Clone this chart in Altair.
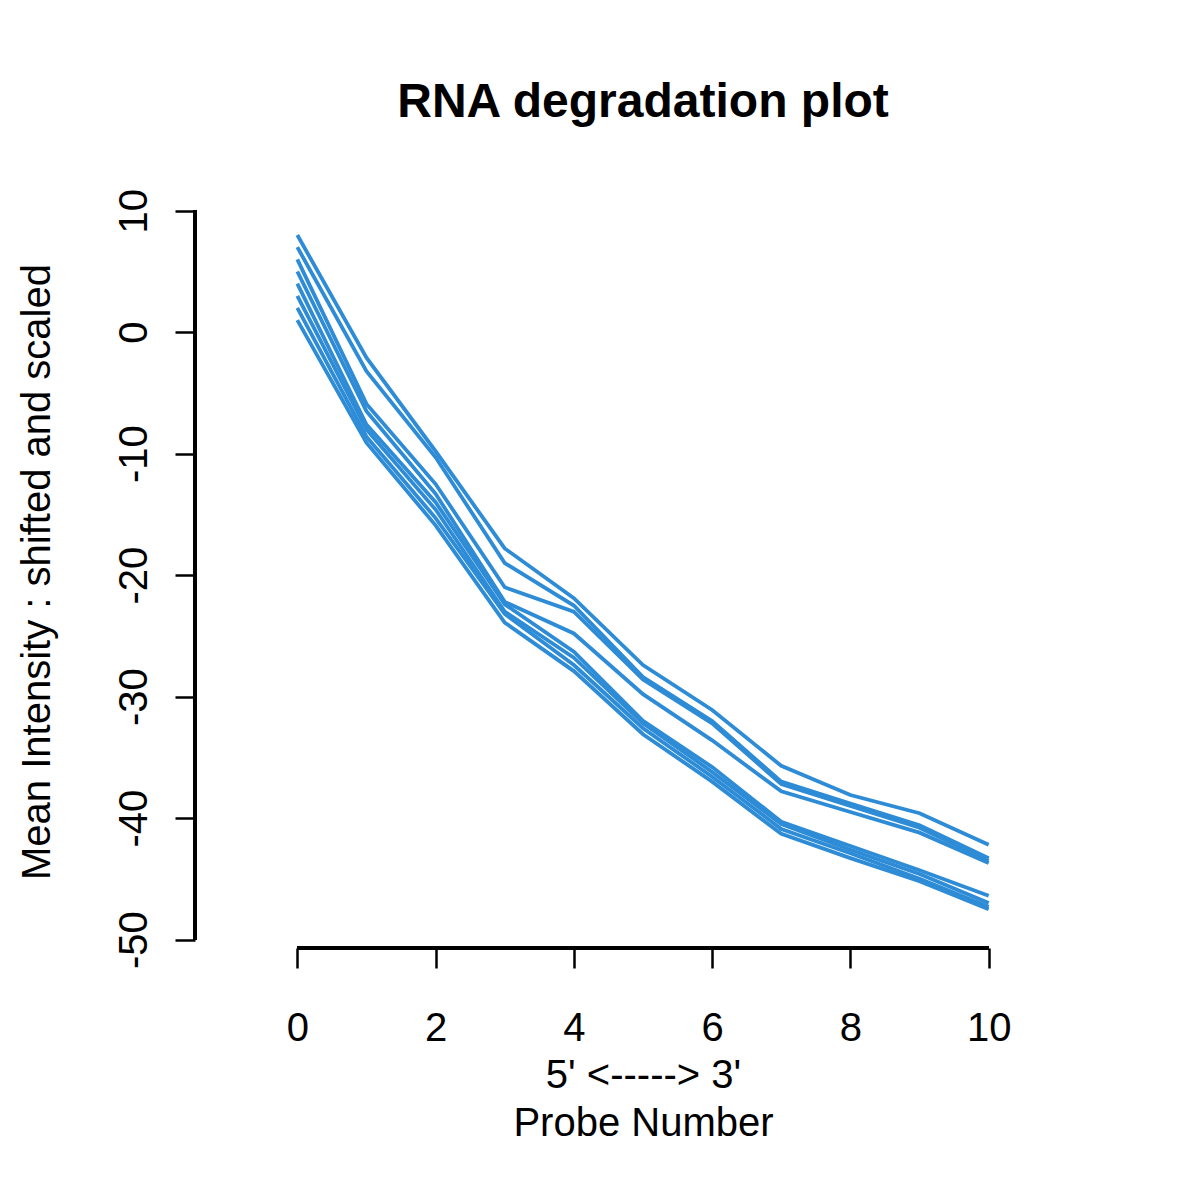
import altair as alt
import pandas as pd

probe = [0, 1, 2, 3, 4, 5, 6, 7, 8, 9, 10]
s8 = [8, -2.1, -9.8, -17.8, -21.9, -27.4, -31.1, -35.7, -38.1, -39.6, -42.2]
s7 = [7, -3.2, -10.3, -19.0, -22.5, -28.4, -32.0, -37.0, -38.8, -40.6, -43.3]
s6 = [6, -5.9, -12.5, -21.0, -23.0, -28.6, -32.2, -37.2, -39.0, -40.8, -43.5]
s5 = [5, -6.5, -13.3, -22.2, -24.8, -29.8, -33.6, -37.8, -39.5, -41.2, -43.7]
s4 = [4, -7.6, -14.0, -22.4, -26.3, -32.0, -35.8, -40.3, -42.3, -44.3, -46.4]
s3 = [3, -8.0, -14.6, -23.0, -26.8, -32.2, -36.2, -40.5, -42.6, -44.6, -47.0]
s2 = [2, -8.6, -15.3, -23.2, -27.4, -32.6, -36.6, -40.9, -42.9, -45.0, -47.3]
s1 = [1, -9.1, -15.9, -23.9, -27.9, -33.1, -37.0, -41.3, -43.3, -45.2, -47.5]
series = {"s8": s8, "s7": s7, "s6": s6, "s5": s5, "s4": s4, "s3": s3, "s2": s2, "s1": s1}

x_ticks = [0, 2, 4, 6, 8, 10]
y_ticks = [-50, -40, -30, -20, -10, 0, 10]

rows = []
for name, vals in series.items():
    for p, v in zip(probe, vals):
        rows.append({"sample": name, "probe": p, "value": v})
df = pd.DataFrame(rows)

W, H = 896, 753
FONT = "Liberation Sans"
x_dom = [-1.48, 11.48]
y_dom = [-50.696, 11.296]

xscale = alt.Scale(domain=x_dom, nice=False, zero=False)
yscale = alt.Scale(domain=y_dom, nice=False, zero=False)

lines = alt.Chart(df).mark_line(color="#2E8CD6", strokeWidth=3.8).encode(
    x=alt.X("probe:Q", scale=xscale,
            axis=alt.Axis(values=x_ticks, domain=False, grid=False, tickSize=20,
                          tickWidth=2.5, tickColor="black", labelFontSize=40,
                          labelFont=FONT, labelColor="black", labelPadding=40,
                          labelExpr="'' + datum.value",
                          labelFlush=False, labelOverlap=False,
                          title=["5' <-----> 3'", "Probe Number"],
                          titleFontSize=40, titleFont=FONT, titleFontWeight="normal",
                          titleColor="black", titleLineHeight=48,
                          titleX=W / 2, titleY=139, titleAlign="center",
                          titleBaseline="alphabetic")),
    y=alt.Y("value:Q", scale=yscale,
            axis=alt.Axis(values=y_ticks, domain=False, grid=False, tickSize=20,
                          tickWidth=2.5, tickColor="black", labelFontSize=40,
                          labelFont=FONT, labelColor="black", labelPadding=29,
                          labelAngle=270, labelAlign="center",
                          labelBaseline="alphabetic",
                          labelExpr="'' + datum.value",
                          labelFlush=False, labelOverlap=False,
                          title="Mean Intensity : shifted and scaled",
                          titleFontSize=40, titleFont=FONT, titleFontWeight="normal",
                          titleColor="black", titleAngle=270,
                          titleX=-146, titleY=H / 2, titleAlign="center",
                          titleBaseline="alphabetic")),
    detail="sample:N",
)

xaxis_line = alt.Chart(df).mark_rule(color="black", strokeWidth=2.5).encode(
    x=alt.X(datum=x_ticks[0], scale=xscale),
    x2=alt.X2(datum=x_ticks[-1]),
    y=alt.Y(datum=y_dom[0], scale=yscale),
)
yaxis_line = alt.Chart(df).mark_rule(color="black", strokeWidth=2.5).encode(
    y=alt.Y(datum=y_ticks[0], scale=yscale),
    y2=alt.Y2(datum=y_ticks[-1]),
    x=alt.X(datum=x_dom[0], scale=xscale),
)

chart = alt.layer(lines, xaxis_line, yaxis_line).properties(
    width=W, height=H,
    background="white",
    title=alt.TitleParams("RNA degradation plot", fontSize=48, font=FONT,
                          fontWeight="bold", color="black", anchor="middle",
                          baseline="alphabetic", offset=23),
    autosize=alt.AutoSizeParams(type="none"),
    padding={"left": 187, "top": 187, "right": 90, "bottom": 230},
).configure_view(strokeWidth=0, stroke=None)

chart.save("out.html", embed_options={"renderer": "svg", "actions": False})
